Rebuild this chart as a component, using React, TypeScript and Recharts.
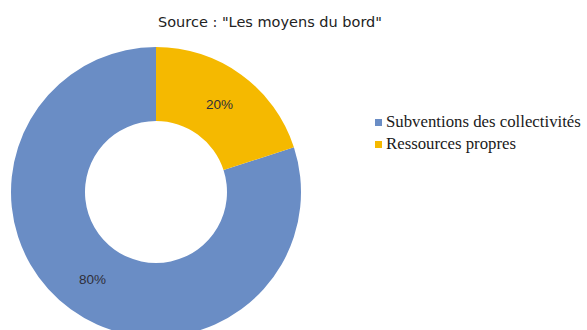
import React from "react";
import { PieChart, Pie, Cell, Legend } from "recharts";

const categories = ["Subventions des collectivités", "Ressources propres"];
const values = [80, 20];
const colors = ["#6A8DC5", "#F5B900"];
const title = 'Source : "Les moyens du bord"';

const data = categories.map((name, i) => ({ name, value: values[i] }));

const RAD = Math.PI / 180;

const renderLabel = (props: any) => {
  const { cx, cy, midAngle, innerRadius, outerRadius, percent } = props;
  const r = (innerRadius + outerRadius) / 2;
  const x = cx + r * Math.cos(-midAngle * RAD);
  const y = cy + r * Math.sin(-midAngle * RAD);
  return (
    <text
      x={x}
      y={y}
      textAnchor="middle"
      dominantBaseline="central"
      fill="#2f2f3a"
      fontFamily="'Liberation Sans', Arial, sans-serif"
      fontSize={13.5}
    >
      {`${Math.round(percent * 100)}%`}
    </text>
  );
};

const renderLegend = () => (
  <div style={{ fontFamily: "'Liberation Serif', 'Times New Roman', serif", fontSize: 16.8, color: "#1a1a1a" }}>
    {data.map((d, i) => (
      <div key={d.name} style={{ display: "flex", alignItems: "center", height: 22, fontFamily: "'Liberation Serif', 'Times New Roman', serif" }}>
        <span
          style={{
            display: "inline-block",
            width: 7,
            height: 7,
            background: colors[i],
            marginRight: 4,
          }}
        />
        <span style={{ fontFamily: "'Liberation Serif', 'Times New Roman', serif" }}>{d.name}</span>
      </div>
    ))}
  </div>
);

export default function App() {
  return (
    <div style={{ position: "absolute", left: 0, top: 0, width: 587, height: 330, background: "#fff" }}>
      <div
        style={{
          position: "absolute",
          left: 0,
          top: 13,
          width: 540,
          textAlign: "center",
          fontFamily: "'DejaVu Sans', Verdana, sans-serif",
          fontSize: 14.5,
          color: "#222",
          lineHeight: "18px",
          zIndex: 2,
        }}
      >
        {title}
      </div>
      <PieChart width={587} height={330} margin={{ top: 0, right: 0, bottom: 0, left: 0 }}>
        <Pie
          data={data}
          dataKey="value"
          nameKey="name"
          cx={156}
          cy={192}
          innerRadius={71}
          outerRadius={145}
          startAngle={18}
          endAngle={-342}
          stroke="none"
          labelLine={false}
          label={renderLabel}
          isAnimationActive={false}
        >
          {data.map((d, i) => (
            <Cell key={d.name} fill={colors[i]} />
          ))}
        </Pie>
        <Legend
          content={renderLegend}
          layout="vertical"
          wrapperStyle={{ position: "absolute", left: 375, top: 111, width: 212 }}
        />
      </PieChart>
    </div>
  );
}
